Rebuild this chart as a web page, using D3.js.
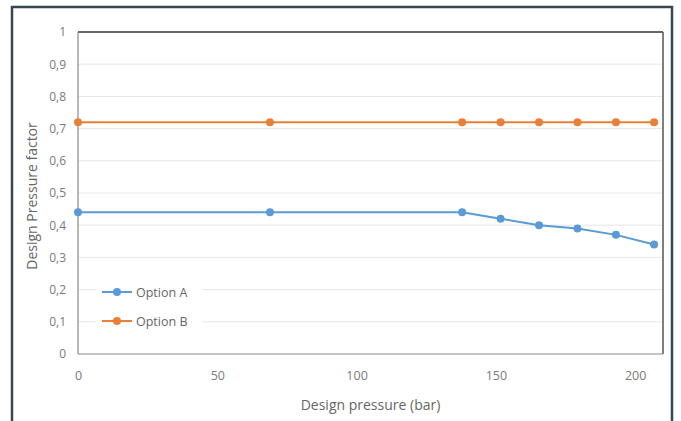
<!DOCTYPE html>
<html>
<head>
<meta charset="utf-8">
<script src="https://cdn.jsdelivr.net/npm/d3@7"></script>
<style>
  html, body { margin: 0; padding: 0; background: #fff; }
  svg { display: block; }
  text { font-family: "Open Sans", "Noto Sans", sans-serif; }
</style>
</head>
<body>
<svg id="chart" width="681" height="421"></svg>
<script>
const pressures = [0, 68.9, 137.9, 151.7, 165.5, 179.3, 193.1, 206.8];
const optionA = [0.44, 0.44, 0.44, 0.42, 0.40, 0.39, 0.37, 0.34];
const optionB = [0.72, 0.72, 0.72, 0.72, 0.72, 0.72, 0.72, 0.72];
const seriesNames = ["Option A", "Option B"];
const xTicks = [0, 50, 100, 150, 200];
const yTicks = [0, 0.1, 0.2, 0.3, 0.4, 0.5, 0.6, 0.7, 0.8, 0.9, 1];
const colors = ["#5b9bd5", "#ea8038"];

(function () {
const svg = d3.select("#chart");

// outer frame
svg.append("rect").attr("x", 12).attr("y", 7).attr("width", 660).attr("height", 430)
  .attr("fill", "#fff").attr("stroke", "#37474f").attr("stroke-width", 2.5);

const pL = 78, pR = 663, pT = 32, pB = 354;
const x = d3.scaleLinear().domain([0, 210]).range([pL, pR]);
const y = d3.scaleLinear().domain([0, 1]).range([pB, pT]);

// gridlines
svg.append("g").selectAll("line").data(yTicks.filter(d => d > 0 && d < 1)).join("line")
  .attr("x1", pL).attr("x2", pR)
  .attr("y1", d => y(d)).attr("y2", d => y(d))
  .attr("stroke", "#e6e6e6").attr("stroke-width", 1);

// plot border
svg.append("line").attr("x1", pL).attr("x2", pR).attr("y1", pT).attr("y2", pT)
  .attr("stroke", "#333").attr("stroke-width", 1.5);
svg.append("line").attr("x1", pR).attr("x2", pR).attr("y1", pT).attr("y2", pB)
  .attr("stroke", "#555").attr("stroke-width", 1.5);
svg.append("line").attr("x1", pL).attr("x2", pL).attr("y1", pT).attr("y2", pB)
  .attr("stroke", "#8a8a8a").attr("stroke-width", 1.2);
svg.append("line").attr("x1", pL).attr("x2", pR).attr("y1", pB).attr("y2", pB)
  .attr("stroke", "#8a8a8a").attr("stroke-width", 1.2);

// y axis labels
const fmt = d => d === 0 ? "0" : d === 1 ? "1" : d3.format(".1f")(d).replace(".", ",");
const yAxis = d3.axisLeft(y).tickValues(yTicks).tickFormat(fmt).tickSize(0).tickPadding(12);
const gy = svg.append("g").attr("transform", `translate(${pL},0)`).call(yAxis);
gy.select(".domain").remove();
gy.selectAll("text").attr("fill", "#7a7a7a").style("font-size", "12px");

// x axis labels
const xAxis = d3.axisBottom(x).tickValues(xTicks).tickSize(0).tickPadding(17);
const gx = svg.append("g").attr("transform", `translate(0,${pB})`).call(xAxis);
gx.select(".domain").remove();
gx.selectAll("text").attr("fill", "#7a7a7a").style("font-size", "12.5px");

// axis titles
svg.append("text").attr("x", (pL + pR) / 2).attr("y", 410).attr("text-anchor", "middle")
  .attr("fill", "#666").style("font-size", "14px").text("Design pressure (bar)");
svg.append("text").attr("transform", `translate(37,${(pT + pB) / 2 + 3}) rotate(-90)`)
  .attr("text-anchor", "middle").attr("fill", "#666").style("font-size", "14px")
  .text("Design Pressure factor");

// series
const seriesData = [optionA, optionB];
const line = d3.line().x((d, i) => x(pressures[i])).y(d => y(d));
seriesData.forEach((vals, s) => {
  svg.append("path").datum(vals).attr("d", line).attr("fill", "none")
    .attr("stroke", colors[s]).attr("stroke-width", 2);
  svg.append("g").selectAll("circle").data(vals).join("circle")
    .attr("cx", (d, i) => x(pressures[i])).attr("cy", d => y(d)).attr("r", 4)
    .attr("fill", colors[s]);
});

// legend
svg.append("rect").attr("x", 96).attr("y", 280).attr("width", 106).attr("height", 52).attr("fill", "#fff");
seriesNames.forEach((name, i) => {
  const ly = 292 + i * 29;
  svg.append("line").attr("x1", 102).attr("x2", 132).attr("y1", ly).attr("y2", ly)
    .attr("stroke", colors[i]).attr("stroke-width", 2);
  svg.append("circle").attr("cx", 117).attr("cy", ly).attr("r", 4).attr("fill", colors[i]);
  svg.append("text").attr("x", 136).attr("y", ly + 4.5).attr("fill", "#666")
    .style("font-size", "12.5px").text(name);
});
})();
</script>
</body>
</html>
